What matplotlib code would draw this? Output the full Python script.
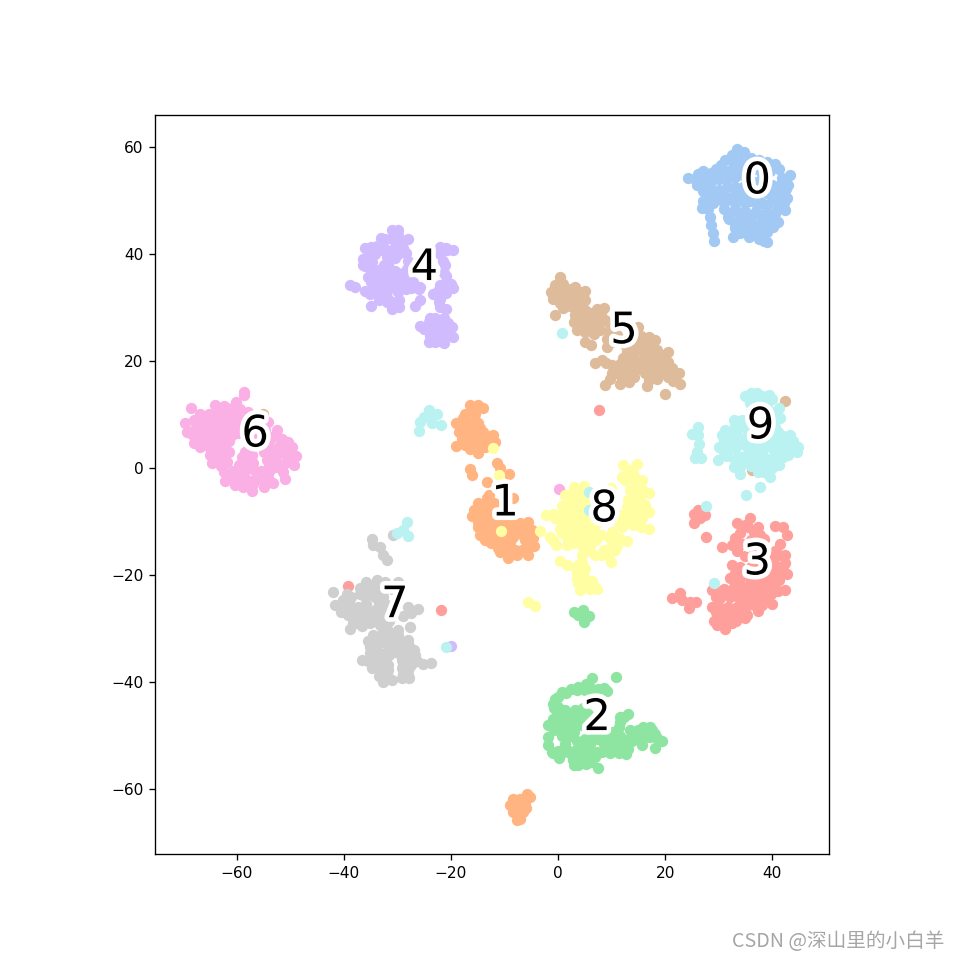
import numpy as np
import matplotlib
matplotlib.use('Agg')
import matplotlib.pyplot as plt
import matplotlib.patheffects as PathEffects

# t-SNE points, one list per digit (stray points included)
digit0 = [(33.5,59.6),(32.4,58.6),(34.8,59),(31.2,57.5),(32.6,57.2),(36,58),(37.6,57.5),(39,57.2),(40.5,56.8),(41.2,56),(38,56),(35,56.5),(33,56),
          (24.2,54.2),(25.5,54),(26.2,55),(27,55.6),(28.5,55.2),(29.5,56),(30.5,56.7),(31,55.5),(26,53),(27.3,53.2),(28.6,53.5),(30,54),(31.5,54),(33,54.5),(34.5,54.8),(35.5,55),
          (27,51.8),(28.5,52),(30,52),(31.5,52.5),(33,52.5),(34.6,52.5),(27,50),(28,50.8),(26.8,48.6),(30,50.5),(32,50.5),(34,50.5),(36,50),(38,49.5),(40,50),(41.5,52),(42.6,52.2),(43.4,54.8),(41.8,54.3),(40,53),
          (28,48.5),(28.3,47),(28.6,45.5),(29,44),(29.2,42.5),
          (31,48.5),(33,48.5),(35,48),(37,48),(39,48),(41,48.5),(42.2,49.5),(32,46.5),(34,46.5),(36,46),(38,46),(40,46.3),(42.3,48.2),(40.2,45.1),(33,44.8),(35,45),(37,44.5),(39,44.2),(31.8,47),(38,43.5),(38.5,42.5),(37.5,42.8),(39,42.2),(32.6,43.2),(35.6,43.2),(40.5,47.5),
          (34,57.5),(30,55),(32,55.5),(33.5,55.3),(36.5,56),(38,55),(39.5,55.5),(37,53.5),(38.5,53.5),(36,52),(37.5,51.5),(39,51.5),(40.5,51.5),(29,51),(31,51),(33,51.3),(35,51),(29,49.5),(31,49.5),(33,49.5),(35,49.5),(37,49.5),(39,49),(41,49.5),(32,47.5),(34,47.2),(36,47),(38,47),(40,47),(33,45.6),(35,46),(37,45.5),(39,45.5),(34,44),(36,44.3),(38,45),(40,50.8),(42,50.5),(43,53),(41.5,53),(42.7,50.5),(27.5,54.5),(29,54.5),(41,46)]
digit1 = [(-16.5,11.8),(-14.9,11.8),(-14,11.2),(-17.4,10.2),(-15.5,10.2),(-17.7,9.3),(-19,8.4),(-16.8,8.4),(-14.9,8.4),(-18.6,6.8),(-17,6.8),(-15.5,6.8),(-14,6.8),(-12.1,6.2),(-16.5,5.3),(-14.9,5.3),(-13.3,5.3),(-11.8,4.9),(-19,4.1),(-17.4,4.3),(-14.9,2.9),(-15.5,4),(-13.7,4),
          (-16.5,-.2),(-16.1,-1.3),(-11.5,.9),(-10.9,.1),(-9.1,-1.1),(-13.2,-2.5),
          (-8.4,-5.6),(-13.3,-5.6),(-14.9,-6.6),(-13,-6.9),(-15.8,-7.8),(-14.3,-8.1),(-12.7,-8.5),(-16.1,-9),(-14.9,-10),(-13.3,-10.3),(-11.8,-10),(-10.2,-10),(-8.7,-10),(-7.1,-10.3),(-5.6,-10),(-13,-11.9),(-11.5,-11.6),(-9.6,-11.9),(-8,-11.6),(-6.2,-11.9),(-4.9,-11.6),(-13.7,-13.4),(-11.8,-13.1),(-9.9,-13.4),(-6.2,-13.4),(-4.7,-13.1),(-10.9,-15.6),(-9.3,-16.7),(-7.7,-16.2),(-5.7,-16.2),(-9.6,-15),(-5.2,-14.7),(-6.8,-15.3),
          (-5.9,-60.8),(-5.2,-61.4),(-7.1,-61.8),(-8.5,-61.8),(-9,-63),(-7.7,-63),(-6.2,-62.7),(-8.4,-64.2),(-6.5,-64.2),(-7.7,-65.8),(-7.1,-65.5),
          (-16,11),(-15.5,9),(-16,7.5),(-14.5,7.5),(-18,7.8),(-13,6),(-14,4.7),(-16,4.6),(-18,5.5),(-16.5,3.5),(-12.5,4.8),(-14.5,-7),(-13,-5),(-12,-6.5),(-12,-8),(-15.5,-9),(-14,-9.2),(-12.5,-9.5),(-11,-9),(-10,-11),(-8.5,-11),(-7,-11),(-12.5,-11),(-14,-11),(-15,-11),(-12.5,-12.5),(-10.5,-12.8),(-8.5,-12.8),(-5,-12.5),(-6.5,-12.5),(-11,-14.3),(-9,-14),(-6,-15),(-4.5,-14.5),(-8,-15.2),(-11.3,-15),(-12.5,-14),(-14.5,-12.5),(-8,-62),(-6,-63.5),(-7.5,-64.8)]
digit2 = [(6.4,-39.3),(10.8,-39.1),(5.3,-40.3),(3.8,-40.8),(2.5,-41.2),(.7,-41.8),(-.6,-43.1),(7.5,-41.2),(9.1,-41.6),(6.3,-41.2),
          (0.05,-44.6),(-.3,-45.9),(1.3,-45.2),(3.2,-45.2),(4.7,-44.9),(-.9,-47.7),(.7,-47.1),(3.5,-46.8),(4.7,-46.5),(2.5,-48.4),(-1.8,-48),(-1.8,-50.2),(-1.8,-51.8),(-.9,-53.3),(.2,-54.1),(1.3,-51.5),(1.9,-50.2),(2.9,-49.3),
          (2.2,-53.3),(2.9,-55.5),(3.8,-55.5),(5.3,-55.2),(7.5,-56.1),(3.8,-54),(5.3,-53.7),(6.9,-54),(4.4,-51.8),(6,-51.5),(7.2,-53),(8.5,-51.5),(9.7,-50.8),(9.7,-53.3),(11.3,-53.3),(12.7,-53.5),(11.3,-51.8),(12.8,-50.8),(13.5,-49),(14.7,-50.2),(15.6,-51.8),(15.9,-48.4),(17.2,-48.4),(17.2,-50.2),(18.1,-49.6),(18.1,-52.2),(19.4,-51),(11.6,-46.5),(13.1,-45.9),(11.3,-48.4),(10,-49.3),(8.5,-49.6),(6.6,-50.2),
          (2.9,-26.9),(4.7,-26.5),(5.7,-27.7),(4.8,-28.7),(3.8,-27.5),
          (1.5,-42),(3.5,-41.5),(5,-41.5),(8.5,-41),(0,-42.8),(-1,-44),(-.8,-44.8),(.5,-46),(2,-46),(3.5,-45.5),(1.8,-47),(2.5,-47.3),(5.5,-46),(0,-48),(-1,-46.8),(-.8,-49),(.8,-48.5),(1.5,-48.5),(3.8,-47.5),(4.3,-48),(.8,-50),(-1.2,-53),(0,-52.8),(1.5,-52.5),(1,-53),(3,-52.8),(2.8,-54.5),(4.8,-54.7),(6.2,-55),(6,-52.6),(4.6,-52.8),(3.5,-51),(5,-50.7),(7.5,-50.6),(9,-52.5),(8.2,-53),(10.5,-52.5),(10.5,-50.5),(12,-52),(13.8,-51),(14,-49.5),(15,-49),(16.5,-49.5),(16,-50.5),(17.5,-49),(18.5,-50.5),(11.5,-47.5),(12.3,-46.5),(10.8,-49.5),(11.5,-50),(13,-52.5)]
digit3 = [(25.3,-8.6),(25.3,-10.2),(26.5,-9.4),(27.5,-8.8),(26.2,-7.8),(27.7,-12.9),
          (35.9,-9.4),(33.4,-10.3),(34.9,-10.6),(37.4,-10.9),(40.5,-10.8),(42.1,-10.9),(42.7,-12.5),(41.5,-14.1),(37.7,-12.5),(34,-12.2),(32.5,-14.4),(30.6,-14.8),(34.3,-14.1),(41.2,-16.2),(42.4,-16.2),(42.4,-17.8),(42.7,-19.7),(41.2,-19),(39.6,-17.2),(41.2,-20.9),(32.5,-18.1),(34,-18.4),(32.1,-20.6),(34,-20.6),(35.6,-20.3),(37.4,-21.2),(39.3,-20.6),(42.4,-22.7),(39.9,-25.3),(37.4,-26.6),
          (28.7,-22.8),(30.9,-22.5),(32.8,-22.2),(34.6,-22.2),(36.2,-22.8),(38.1,-22.8),(39.6,-22.2),(30.3,-24.3),(32.1,-24),(33.7,-24.3),(35.6,-24.6),(37.4,-24.3),(39,-24.3),(30,-25.9),(31.8,-25.9),(33.4,-25.9),(34.9,-26.2),(29.6,-27.8),(31.2,-27.8),(32.8,-27.8),(34,-27.8),(29.6,-29.3),(31.2,-30.1),(32.5,-29),(35.3,-27.4),
          (21.2,-24.3),(22.8,-23.4),(23.1,-24.7),(24.4,-26.2),(24.7,-25),(25.8,-25),
          (-39.2,-22.1),(-21.9,-26.5),(7.7,10.9),
          (35.5,-11),(36.5,-12),(38.5,-13.2),(36,-13.5),(38,-14.5),(36,-15.5),(33.5,-15.5),(35,-16.5),(38,-16.5),(40.5,-15.5),(40.5,-18),(37.5,-18),(39,-19),(36,-18.5),(33,-19.5),(35,-19),(38,-20),(40.5,-20),(42,-19),(36,-21.5),(33,-21.3),(38.5,-21.5),(40.5,-21.5),(41,-23),(39.8,-23.5),(38,-25.5),(36.5,-25.5),(36.5,-23.5),(34.5,-23.2),(31.5,-23.3),(33,-23.2),(29.5,-24),(30.5,-23),(29.5,-26.8),(31,-26.8),(32.5,-26.8),(33.7,-27),(30.4,-28.8),(31.8,-29),(33.3,-28.5),(29.2,-28.5),(35,-25),(30.6,-27.5),(28.8,-26),(35,-28),(37,-15),(33,-13)]
digit4 = [(-31.1,44.5),(-30,44.5),(-32.3,42.9),(-31,42.9),(-28,42.9),(-29.2,42.2),(-30.3,41.5),(-36,41.1),(-35,41.4),(-33.8,41.6),(-32.5,41.2),(-31,40.8),(-29.5,40.8),(-28.4,40.2),(-36.5,39),(-35.5,39.5),(-34.2,40),(-32,39.5),(-30.5,39.3),(-36,37.7),(-35,37),(-32.5,38),(-31.5,37.5),(-30.5,36.8),(-34.5,36),(-33.5,35.7),(-32,36),(-30,35.5),(-29,36.5),(-28.2,37.2),(-35,34.7),(-33,34),(-31.5,34.5),(-30,34.2),(-28.5,35),(-27.2,34.7),(-26,33.5),
          (-22,41.4),(-20.8,40.7),(-19.6,40.7),(-22,40),(-21.1,37.9),(-21.4,36.4),(-20.8,34.8),(-19.6,33.6),(-22,34.2),(-23.3,32.6),(-22,31.7),(-22,30.1),(-21,29.8),
          (-38.9,34.2),(-38,33.9),(-35.1,32.6),(-33.3,32),(-32,32),(-35,30.3),(-31.1,29.8),(-31.1,31.1),(-29.7,31.4),(-29.7,30.1),(-26.7,30.4),(-25.8,31.4),(-33.3,33.2),(-34.2,34.8),(-31.4,33.6),(-27.4,33.6),(-25.8,33.9),
          (-25.8,26.5),(-24.2,27.3),(-23,28),(-21.4,28),(-19.9,26.4),(-19.6,24.6),(-23,26.4),(-21.4,26.4),(-24.2,23.6),(-23,23.6),(-21.4,23.4),(-22.7,24.8),(-21.1,24.8),
          (-20,-33.3),
          (-33,43),(-30,43.5),(-29,41.2),(-30,40),(-33.3,40.8),(-35.7,38.5),(-36.4,38),(-34.8,38.5),(-31.5,38.7),(-28,38.7),(-33.5,37),(-33,36.5),(-35.5,35.8),(-31,35.5),(-33,35),(-29,34),(-32.8,33),(-34.3,33.3),(-30,33),(-28.5,33.5),(-36,33.2),(-32,31),(-30.5,30.8),(-33.5,31.5),(-21,41.2),(-21,36),(-21.5,33.5),(-21,32.8),(-22.5,33.2),(-20,34.5),(-21.5,38.8),(-22.2,31),(-22.5,25.5),(-24,25.8),(-21,25.6),(-20.5,27.2),(-22,27),(-24,24.7),(-25,26),(-20.3,25.5),(-22,23.8),(-24,28)]
digit5 = [(.37,35.7),(-.56,34.2),(-1.4,32.9),(-.9,31.7),(.7,33.2),(3.2,33.9),(5,33.2),(1.6,32),(3.2,32),(5,31.4),(.4,30.8),(2.2,30.4),(4.1,30.1),(-.6,28.6),(3.2,28.6),(2.9,27.3),(3.5,25.8),(4.7,27.3),(5.7,28.3),(7.2,29.8),(8.6,30),(7.2,28),(8.8,27.6),(6,26.1),(7.8,25.8),(9.7,26.7),
          (5,23.6),(6.1,23),(9.1,24.2),(9.1,22.7),(11,24.8),(15,26.4),(14.7,24.2),(16.9,24.5),(18.1,23.9),(16.3,23),(17.5,22.3),(14.1,22.7),(12.8,21.7),(20.6,21.7),(19.4,21.1),(17.8,20.8),(15.9,20.5),(13.8,20.5),(12.2,20.5),(8.2,20.2),(6.9,19.7),(10,19.2),(11.6,19.5),(13.5,18.9),(16.6,19.2),(18.4,19.2),(20.6,19.9),(16.3,17.7),(18.1,17.7),(22.5,17.7),(21.6,17.4),(22.8,15.7),(20.6,17),(11,17.7),(12.8,17.7),(14.1,17),(8.8,15.5),(11.6,15.8),(13.2,16.1),(16.6,15.3),(18.4,16.7),(20,13.9),(9.7,16.7),
          (-55.1,10.2),(42.3,12.5),(36.3,-.4),
          (1,34.5),(0,33),(1.8,33),(2.5,33.5),(4,33),(4,32),(1,31.5),(2.5,31.2),(4,31),(3,30),(1,30),(3.5,29.5),(5,29.5),(4,28),(6,29),(8,29),(8,28.5),(4,26.5),(6.5,27.5),(5,25.5),(6.7,25),(7.5,27),(9.5,25.5),(10,23.5),(15.5,22.5),(14,21.5),(16,21.7),(18.5,22),(19,20),(17.5,20),(14.5,19.7),(12.8,19.5),(9,19.7),(12,18.5),(15,18.5),(17.2,18.5),(19.5,19),(17,16.5),(19,18),(21.3,18.8),(20,18),(12,16.8),(10,17.8),(15,19.5),(21.5,16.2),(13.5,24),(15.5,24.7),(12.5,23)]
digit6 = [(-58.6,14.3),(-58.6,13.6),(-60.2,12.4),(-68.5,11.3),(-64,11.8),(-62.5,11.6),(-61,11.2),(-58,10.5),
          (-66.9,10.2),(-65.3,10.2),(-63.8,10.2),(-62.2,10.2),(-60,9.6),(-69.7,8.4),(-68.1,9),(-66.6,9),(-65,8.7),(-63.5,8.7),(-61.9,8.7),(-60.4,8.4),
          (-69.4,6.8),(-67.8,7.4),(-66.3,7.4),(-64.7,7.1),(-63.2,7.1),(-61,6.2),(-68.1,4.7),(-66.9,4),(-67.2,5.9),(-65.6,5.9),(-64,5.9),(-62.5,6.2),(-63.8,4.3),(-62.2,4),
          (-65,2.4),(-64.7,.9),(-63.2,2.4),(-61.9,1.2),(-62.5,-.7),(-62.2,-2.4),(-60.4,-1.9),(-60.4,-3.2),(-58.8,-3.5),(-57.2,-4.2),(-58.5,-1.9),(-56.9,-2.2),(-55,-3.6),(-53.2,-2.7),(-51,-2.1),(-54.1,-1.6),(-51.3,-.7),(-53.8,-.4),(-59.7,.6),(-58.2,1.2),(-58.5,-.4),(-56.9,-.4),(-57.2,2.4),(-58.5,3),
          (-54.4,1.5),(-52.9,1.5),(-51,.9),(-49.4,.6),(-48.9,2.2),(-50.4,2.4),(-52,2.8),(-53.5,3.4),(-50.4,4.9),(-49.8,4),(-52,4.3),(-52.6,7.1),(-53.5,5.9),(-54.1,8.7),(-54.7,7.1),(-59.4,7.4),
          (.2,-3.9),
          (-59.5,11),(-63,11),(-66,9.5),(-64.2,9.3),(-62.8,9.3),(-61,9.3),(-59,9),(-67.5,8),(-65.5,8),(-63,8),(-61.5,7.8),(-60,8),(-68.7,6.5),(-66.5,6.3),(-65,6.5),(-62.5,7),(-59.8,6.5),(-66.7,5),(-65.2,5),(-63,5),(-61.5,5),(-68,6),(-65,3.7),(-63.5,3),(-61.5,3),(-64,1.5),(-62.5,1.5),(-63,.5),(-60.8,-.5),(-61.5,-1.5),(-59.5,-.8),(-58,-3),(-57,-3),(-59.5,-2.8),(-55.5,-2),(-54.5,-2.8),(-55.5,-.5),(-57.5,.5),(-59,2),(-58,3.5),(-57,1),(-54,.5),(-52.5,.3),(-50.5,1.5),(-53.5,2.5),(-51.3,3.5),(-55,4),(-54,4.8),(-51.5,5.5),(-55.8,6),(-56,8),(-58,8),(-55,3)]
digit7 = [(-42.1,-23.1),(-37,-22.3),(-35.8,-21.2),(-33.9,-20.9),(-32.4,-21.2),(-30,-21.2),(-35.2,-22.5),(-33.6,-22.5),(-34.2,-24),(-32.7,-24),(-38.6,-24),(-40.1,-24.7),(-41.7,-25.6),(-40.5,-26.9),(-39.2,-27.5),(-38.9,-25.6),(-37.3,-25.9),(-37.3,-27.2),(-35.8,-25.3),(-35.8,-26.9),(-34.2,-26.5),(-32.7,-27.2),(-28,-25.9),(-26.1,-26.4),(-28.9,-27.7),(-27.7,-26.9),
          (-38.8,-30),(-38.3,-29),(-36.7,-29.5),(-35.2,-29),(-33.3,-29.3),(-32,-30),(-27.7,-29.7),
          (-34.5,-31.2),(-33,-31.2),(-31.4,-31.2),(-29.9,-31.2),(-28,-32.2),(-35.2,-33.4),(-33.6,-32.8),(-32,-32.8),(-30.5,-32.8),(-28.9,-33.4),(-27,-34),(-35.2,-34.6),(-33.6,-34.3),(-32,-34.3),(-30.5,-34.3),(-28.3,-34.6),(-26.7,-35),(-36.6,-35.9),(-34.2,-35.9),(-32.4,-35.9),(-29.2,-35.9),(-27.7,-35.9),(-25.2,-36.6),(-23.8,-36.4),(-34.8,-37.4),(-33.3,-37.8),(-31.7,-37.8),(-29.2,-37.4),(-28,-37.8),(-32.8,-40),(-31.1,-39.6),(-29.2,-39.3),(-27.8,-39.3),(-32.7,-38.7),
          (-30.8,-12.5),(-34.7,-13.2),(-34.5,-14.4),(-33.3,-14.7),(-32.7,-16.3),(-32,-17.2),
          (-34.5,-21.8),(-31,-22.5),(-32.5,-22.7),(-37,-23.5),(-36,-24),(-39.5,-23.5),(-40,-26),(-38,-27),(-36.5,-26.5),(-35,-27.8),(-33.5,-25.3),(-32,-25.5),(-33.5,-28),(-31.5,-28.5),(-37.5,-29),(-36,-28),(-27.5,-27),(-34,-32),(-32,-31.8),(-30,-32),(-29,-32.5),(-34.5,-33.5),(-31,-33.5),(-27.8,-33.3),(-34,-35),(-32.8,-35),(-31.5,-35),(-29.5,-34.8),(-28,-35),(-35.5,-36),(-33,-36.8),(-31.7,-36.7),(-29,-36.5),(-27.5,-36.7),(-26.3,-36),(-32,-38.5),(-29,-38.5),(-28,-38.6),(-33.5,-38.8),(-30,-30.2),(-35.5,-32.3)]
digit8 = [(12.2,.6),(14.8,.8),(13.8,-.4),(11.9,-1.7),(13.1,-1.9),(15.6,-2.2),(13.4,-4.1),(15.6,-3.8),(16.9,-4.7),(13.8,-5.6),(15.3,-5.3),(12.8,-7.2),(14.4,-7.2),(16.2,-6.9),(17,-8.1),(12.2,-8.8),(14.1,-9.4),(15.6,-9.4),(11.3,-10.3),(14,-10.6),(15.4,-10.9),(16.9,-11.4),(9.8,-3.7),
          (3,-3.6),(4.9,-3.3),(1.3,-5),(3.8,-5.6),(.7,-7.1),(2.2,-7.2),(3.8,-7.2),(-2.3,-8.8),(-.6,-9.4),(1.3,-8.8),(3.2,-8.8),(5,-9.4),(.4,-11.3),(2.2,-10.9),(3.8,-10.6),(5.3,-10.9),(-3.4,-11.8),(-1.5,-12.8),(-.4,-14.4),(2.5,-12.5),(4.1,-12.8),(5.7,-12.8),(8.1,-12.5),(9.7,-13.1),(11.3,-13.1),(12.8,-13.7),(1.6,-14.4),(4.7,-14.7),(6,-14.4),(8.5,-15.3),(10.6,-15.3),(4.4,-16.2),(6.9,-16.2),(8.1,-16.2),(1.6,-18.1),(.4,-17.3),(9.9,-17.5),(3.2,-18.4),(5,-18.9),(3.5,-19.7),(3.8,-21.4),(6.3,-21),(5.4,-21.5),(4.1,-22.8),(6,-22.6),(7.2,-22.5),
          (-5.7,-25),(-4.4,-25.8),(-12.1,3.8),(-11,-1.2),(-10.7,-11.8),
          (13,-.5),(14.2,-1.5),(12.5,-2.2),(14.5,-3),(14.2,-4.5),(14.8,-6),(13,-6),(15,-8),(13.5,-8.5),(16,-8),(15,-10.5),(2.5,-4.8),(4.2,-4.2),(5,-5.5),(2,-6),(1.5,-7.8),(3.2,-6.5),(5,-6.8),(5,-8),(.2,-9),(-1,-8.5),(.8,-10.2),(2.5,-9.7),(4.2,-9.5),(6.5,-9.5),(7.5,-10),(.8,-12.2),(2,-12),(3.5,-11.8),(5,-11.8),(6.7,-11.5),(1.8,-13.5),(3,-14),(5.2,-13.5),(7,-13.5),(10,-14.2),(11,-14.5),(4.5,-17.5),(3.8,-18),(4.2,-19.5),(4.8,-20.5),(3.5,-20.7),(5,-22),(6.5,-21.8),(-1,-13.5),(9.5,-16.5),(6,-15.5),(10,-12),(13,-10),(11,-8.5),(12,-11)]
digit9 = [(34.9,13.4),(37.1,14),(39.3,13.7),(35.9,12.1),(41.2,11.2),(32.8,9),(34.3,9),(31.2,7.1),(30.6,6.2),(32.8,6.8),(34,7.7),(43.4,6.2),(43,5.3),(44.9,4),(44.6,3.1),(43,2.4),(41.5,3.4),(41.2,5.3),(39.6,5.9),(40.5,7.7),(41.5,9.3),(39.9,3.7),(36.5,3.4),(35.3,4),(33.7,4.6),(32.1,4),(30,4),(30.9,3.1),(29.8,1.6),(34.3,2.1),(35.9,2.4),(32.8,.3),(33.9,-1),(34.6,1.2),(37.4,1.2),(39,1.8),(41.2,.6),(42.1,2.1),(37.4,-.7),(39.6,-1.6),(39.9,0),(37.7,-3.5),(35.1,-5.1),
          (26.2,7.7),(25,6.3),(26.2,6.2),(26.4,4.6),(25.9,3.1),(25.5,1.9),(26.7,1.9),
          (-24.2,10.8),(-22.7,10.2),(-25.1,9.6),(-25.8,8.7),(-23.6,8.4),(-21.9,8),(-25.9,7),(-24.5,9.6),
          (-28.3,-10),(-28.9,-11.6),(-30.1,-12.2),(-28,-12.7),
          (.7,25.3),(5.7,-4.5),(5.7,-7.8),(27.6,-7.1),(29.2,-21.5),(-20.9,-33.4),
          (36,14),(38,13.5),(36.5,12.8),(38.5,12.5),(40,13),(37,11.5),(39,11.5),(40.5,10.5),(36,10.5),(39,9.5),(40,9),(36,8.8),(33,8),(35,8),(38,7),(39.5,7),(41,6.7),(32,6),(33.5,6),(35.5,6.5),(37,6),(38.2,5.5),(31,5),(32.5,5),(35,5.2),(37,5),(40.2,5),(42,6),(42.5,4.2),(43.5,3.5),(38.5,4.2),(40.5,2.5),(31.5,3.2),(33,3.5),(33,1.5),(38,2.8),(37,2),(36,.5),(38,.5),(39,.3),(38.5,-.8),(40.5,1.2),(35.8,1.2),(34,.3),(31.5,2.2),(43.8,5)]

digits = [digit0, digit1, digit2, digit3, digit4, digit5, digit6, digit7, digit8, digit9]
palette = ['#a1c9f4', '#ffb482', '#8de5a1', '#ff9f9b', '#d0bbff',
           '#debb9b', '#fab0e4', '#cfcfcf', '#fffea3', '#b9f2f0']
label_x = [37.2, -9.9, 7.3, 37.2, -25, 12.3, -56.6, -30.5, 8.6, 37.8]
label_y = [53.6, -6.6, -46.7, -17.6, 37.4, 25.6, 6.3, -25.6, -7.7, 7.8]

fig = plt.figure(figsize=(8, 8), dpi=120)
ax = fig.add_axes([155 / 960, 106 / 960, 674 / 960, 739 / 960])

for pts, col in zip(digits, palette):
    arr = np.array(pts)
    ax.scatter(arr[:, 0], arr[:, 1], lw=0, s=46, c=col)

ax.set_xlim(-75.3, 50.6)
ax.set_ylim(-72.1, 66)
ax.set_xticks([-60, -40, -20, 0, 20, 40])
ax.set_yticks([-60, -40, -20, 0, 20, 40, 60])
ax.tick_params(labelsize=9.2)

for i in range(10):
    txt = ax.text(label_x[i], label_y[i], str(i), fontsize=26, ha='center', va='center')
    txt.set_path_effects([PathEffects.Stroke(linewidth=5.5, foreground='w'), PathEffects.Normal()])

fig.text(0.984, 0.019, 'CSDN @深山里的小白羊', ha='right', va='center', fontsize=11.8,
         color='#a6a6a6', family=['Noto Sans CJK SC', 'DejaVu Sans'])

fig.savefig('out.png', dpi=120)
